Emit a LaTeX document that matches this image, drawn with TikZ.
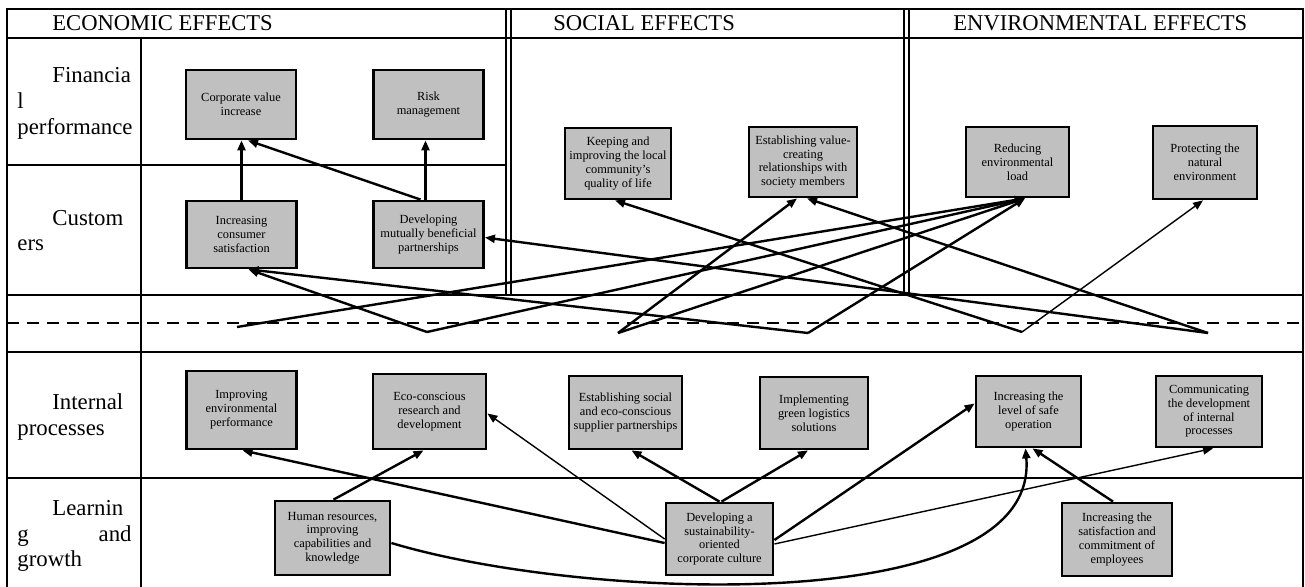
\documentclass[tikz,border=0pt]{standalone}
\usepackage{fontspec}
\setmainfont{Liberation Serif}
\usetikzlibrary{arrows.meta,positioning,calc}
\definecolor{boxgray}{RGB}{192,192,192}
\tikzset{
  goal/.style={draw, line width=1.4pt, fill=boxgray, align=center, inner sep=1pt,
    font=\fontsize{6.2}{6.9}\selectfont, minimum width=55pt, minimum height=35pt},
  head/.style={anchor=base west, inner sep=0pt, font=\fontsize{11.3}{13}\selectfont},
  rowlab/.style={anchor=base west, inner sep=0pt, font=\fontsize{11.4}{13}\selectfont},
  link/.style={line width=1.2pt, -{Triangle[length=5pt,width=4pt]}},
  thinlink/.style={line width=0.7pt, -{Triangle[length=5pt,width=4pt]}},
  frame/.style={line width=0.7pt}
}

\begin{document}
\begin{tikzpicture}[x=0.5pt,y=-0.5pt]
\useasboundingbox (0,0) rectangle (1305,587);

% Table frame
\draw[frame] (7,587) -- (7,9) -- (1303,9) -- (1303,587);
\draw[frame] (7,38) -- (1303,38);
\draw[frame] (141,38) -- (141,587);
\draw[frame] (7,165) -- (506,165);
\draw[frame] (506,9) -- (506,295) (511,9) -- (511,295);
\draw[frame] (904,9) -- (904,295) (909,9) -- (909,295);
\draw[line width=1.3pt] (7,295) -- (1303,295);
\draw[frame, dash pattern=on 6pt off 4pt] (7,323) -- (1303,323);
\draw[frame] (7,352) -- (1303,352);
\draw[frame] (7,478) -- (1303,478);

% Column heads
\node[head] (econ) at (52,31) {ECONOMIC EFFECTS};
\node[head] (soc) at (553,31) {SOCIAL EFFECTS};
\node[head] (env) at (953,31) {ENVIRONMENTAL EFFECTS};

% Row labels
\node[rowlab] (fin1) at (52,83) {Financia};
\node[rowlab] (fin2) at (17,109) {l};
\node[rowlab] (fin3) at (17,135) {performance};
\node[rowlab] (cus1) at (52,226) {Custom};
\node[rowlab] (cus2) at (17,251) {ers};
\node[rowlab] (int1) at (52,409) {Internal};
\node[rowlab] (int2) at (17,435) {processes};
\node[rowlab] (lrn1) at (52,515) {Learnin};
\node[rowlab] (lrn2) at (17,541) {g};
\node[rowlab, anchor=base east] (lrn3) at (132,541) {and};
\node[rowlab] (lrn4) at (17,566) {growth};

% Economic goals
\node[goal, minimum height=34.5pt] (corp) at (241,104.5) {Corporate value\\increase};
\node[goal, minimum height=34.5pt] (risk) at (428.5,104.5) {Risk\\management};
\node[goal, minimum height=33.5pt] (consumer) at (241.5,234.5) {Increasing\\consumer\\satisfaction};
\node[goal, minimum height=33.5pt] (partner) at (428.5,234.5) {Developing\\mutually beneficial\\partnerships};

% Social goals
\node[goal, minimum width=53pt, minimum height=35.5pt] (community) at (618,163.5) {Keeping and\\improving the local\\community's\\quality of life};
\node[goal, minimum width=54pt] (society) at (803,162) {Establishing value-\\creating\\relationships with\\society members};

% Environmental goals
\node[goal, minimum width=51.5pt] (load) at (1017.5,162) {Reducing\\environmental\\load};
\node[goal, minimum width=52pt, minimum height=36.5pt] (nature) at (1205,162.5) {Protecting the\\natural\\environment};

% Internal processes
\node[goal, minimum height=39pt] (envperf) at (241.5,410) {Improving\\environmental\\performance};
\node[goal, minimum width=56.5pt, minimum height=37.5pt] (rnd) at (429.5,411.5) {Eco-conscious\\research and\\development};
\node[goal, minimum width=56.5pt, minimum height=36.5pt] (supplier) at (625.5,412.5) {Establishing social\\and eco-conscious\\supplier partnerships};
\node[goal, minimum width=54pt, minimum height=36pt] (logistics) at (814,413) {Implementing\\green logistics\\solutions};
\node[goal, minimum width=52.5pt, minimum height=35.5pt] (safety) at (1028.5,411.5) {Increasing the\\level of safe\\operation};
\node[goal, minimum width=53pt, minimum height=35.5pt] (commun) at (1209,411.5) {Communicating\\the development\\of internal\\processes};

% Learning and growth
\node[goal, minimum width=57.5pt, minimum height=37pt] (hr) at (332.5,538) {Human resources,\\improving\\capabilities and\\knowledge};
\node[goal, minimum width=53.5pt, minimum height=36pt] (culture) at (719.5,539) {Developing a\\sustainability-\\oriented\\corporate culture};
\node[goal, minimum height=36.5pt] (employees) at (1117,539.5) {Increasing the\\satisfaction and\\commitment of\\employees};

% Free ends in the middle band
\coordinate (s1) at (237,327);
\coordinate (s2) at (427,332);
\coordinate (s3) at (618,333);
\coordinate (s4) at (808,333);
\coordinate (s5) at (1022,332);
\coordinate (s6) at (1208,333);

% Links in the upper part
\draw[link] (consumer.north) -- (consumer.north |- corp.south);
\draw[link] ($(partner.north)+(-3,0)$) -- ($(risk.south)+(-3,0)$);
\draw[link] ($(partner.north)+(-8,0)$) -- ($(corp.south)+(7,0)$);

\draw[link] (s1) -- ($(load.south)+(7.5,0)$);
\draw[link] (s2) -- ($(consumer.south)+(7,0)$);
\draw[link] (s2) -- ($(load.south)+(7.5,0)$);
\draw[link] (s3) -- ($(society.south)+(-6,0)$);
\draw[link] (s3) -- ($(load.south)+(7.5,0)$);
\draw[link] (s4) -- ($(consumer.south)+(7,0)$);
\draw[link] (s4) -- ($(load.south)+(7.5,0)$);
\draw[link] (s5) -- ($(community.south)+(-3,0)$);
\draw[thinlink] (s5) -- ($(nature.south)+(-2,0)$);
\draw[link] (s6) -- ($(partner.east)+(0,3)$);
\draw[link] (s6) -- ($(society.south)+(4,0)$);

% Links in the lower part
\draw[link] ($(hr.north)+(1,0)$) -- ($(rnd.south)+(-6,0)$);
\draw[link] ($(culture.west)+(0,4)$) -- ($(envperf.south)+(1,0)$);
\draw[thinlink] ($(culture.west)+(0,0)$) -- ($(rnd.east)+(0,2)$);
\draw[link] (culture.north) -- ($(supplier.south)+(6,0)$);
\draw[link] ($(culture.north)+(2,0)$) -- ($(logistics.south)+(-6,0)$);
\draw[link] ($(culture.east)+(0,1)$) -- ($(safety.west)+(0,-8)$);
\draw[thinlink] ($(culture.east)+(0,5)$) -- ($(commun.south)+(4,0)$);
\draw[link] ($(hr.east)+(0,5)$) .. controls (580,600) and (1040,620) .. ($(safety.south)+(-3,0)$);
\draw[link] ($(employees.north)+(-4,0)$) -- ($(safety.south)+(4,0)$);
\end{tikzpicture}
\end{document}
